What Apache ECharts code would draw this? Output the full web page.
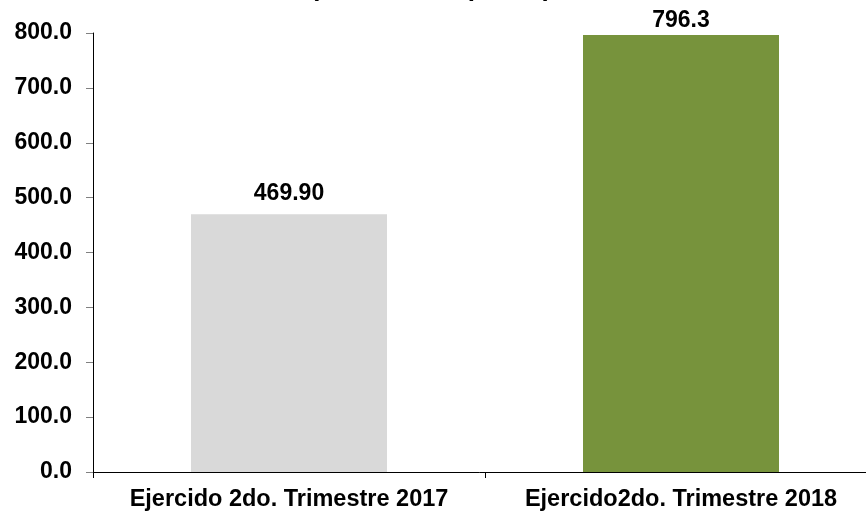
<!DOCTYPE html>
<html>
<head>
<meta charset="utf-8">
<script src="https://cdn.jsdelivr.net/npm/echarts@6/dist/echarts.min.js"></script>
<style>
  html, body { margin: 0; padding: 0; background: #fff; }
  #chart { width: 866px; height: 512px; }
</style>
</head>
<body>
<div id="chart"></div>
<script>
// datos
const categories = ['Ejercido 2do. Trimestre 2017', 'Ejercido2do. Trimestre 2018']
const values = [469.9, 796.3]
const valueLabels = ['469.90', '796.3']
const barColors = ['#d9d9d9', '#77933c']
const yMin = 0
const yMax = 800
const yStep = 100

const font = 'Liberation Sans, Arial, sans-serif'

const chart = echarts.init(document.getElementById('chart'), null, { renderer: 'canvas' })

chart.setOption({
  animation: false,
  title: {
    text: '(Millones de pesos)',
    left: 431,
    textAlign: 'center',
    top: -24,
    padding: 0,
    textStyle: { fontFamily: font, fontWeight: 'bold', fontSize: 26, lineHeight: 26, color: '#000' }
  },
  grid: {
    left: 93,
    top: 33,
    width: 784,
    height: 439,
    outerBoundsMode: 'none'
  },
  xAxis: {
    type: 'category',
    data: categories,
    axisLine: { lineStyle: { color: '#000', width: 1 } },
    axisTick: { show: true, length: 6, lineStyle: { color: '#000' } },
    axisLabel: {
      interval: 0,
      hideOverlap: false,
      margin: 16,
      fontFamily: font,
      fontWeight: 'bold',
      fontSize: 23.5,
      color: '#000'
    }
  },
  yAxis: {
    type: 'value',
    min: yMin,
    max: yMax,
    interval: yStep,
    splitLine: { show: false },
    axisLine: { show: true, lineStyle: { color: '#000', width: 1 } },
    axisTick: { show: true, length: 7, lineStyle: { color: '#808080' } },
    axisLabel: {
      margin: 21,
      fontFamily: font,
      fontWeight: 'bold',
      fontSize: 23,
      color: '#000',
      formatter: (v) => v.toFixed(1)
    }
  },
  series: [
    {
      type: 'bar',
      barWidth: '50%',
      data: values.map((v, i) => ({
        value: v,
        itemStyle: { color: barColors[i] },
        // la etiqueta de arriba queda mas pegada a la barra (no cabe)
        label: { distance: i === 0 ? 9 : 3 }
      })),
      label: {
        show: true,
        position: 'top',
        fontFamily: font,
        fontWeight: 'bold',
        fontSize: 23,
        color: '#000',
        formatter: (p) => valueLabels[p.dataIndex]
      }
    }
  ]
})
</script>
</body>
</html>
